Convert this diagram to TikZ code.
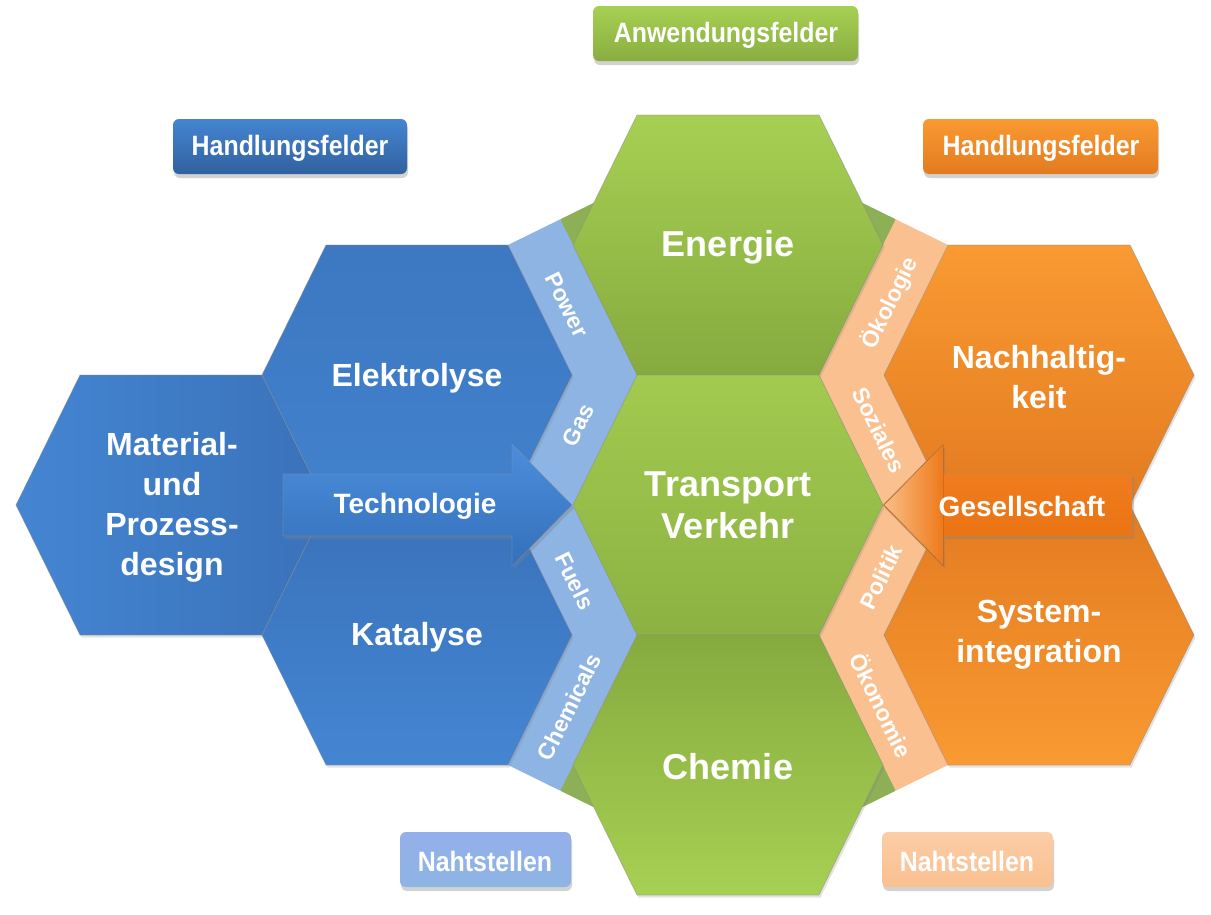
\documentclass[tikz,border=0pt]{standalone}
\usepackage{fontspec}
\setmainfont{Liberation Sans}
\newfontfamily\boxfont[FakeStretch=0.89]{Liberation Sans}
\usetikzlibrary{shadows}
\definecolor{blueA}{HTML}{4485D2}
\definecolor{blueB}{HTML}{3A72BA}
\definecolor{greenA}{HTML}{A6D052}
\definecolor{greenB}{HTML}{86AA3F}
\definecolor{orA}{HTML}{F99A32}
\definecolor{orB}{HTML}{E37B20}
\definecolor{ltblue}{HTML}{8EB4E3}
\definecolor{ltorange}{HTML}{FAC090}
\definecolor{dkgreen}{HTML}{8DAF55}
\definecolor{arrBlueA}{HTML}{4C8DDB}
\definecolor{arrBlueB}{HTML}{3470BA}
\definecolor{arrOrA}{HTML}{F28022}
\definecolor{arrOrB}{HTML}{E8700F}
\definecolor{tipOr}{HTML}{F9BE86}
\newcommand\myhex[2]{(#1-155,#2) -- (#1-91,#2-130) -- (#1+91,#2-130) -- (#1+155,#2) -- (#1+91,#2+130) -- (#1-91,#2+130) -- cycle}
\tikzset{
  wtxt/.style={text=white, inner sep=0pt},
  hexbase/.style={draw=black!45, draw opacity=.5, line width=0.7pt,
    drop shadow={opacity=.22, shadow xshift=1.5pt, shadow yshift=-2.5pt}},
  hextxt/.style={wtxt, font=\fontsize{32}{40}\selectfont\bfseries, align=center},
  bigtxt/.style={wtxt, font=\fontsize{36}{42}\selectfont\bfseries, align=center},
  striptxt/.style={wtxt, font=\fontsize{23}{26}\selectfont\bfseries},
  arrtxt/.style={wtxt, font=\fontsize{28}{32}\selectfont\bfseries},
  boxtxt/.style={wtxt, font=\boxfont\fontsize{28}{32}\selectfont\bfseries},
  labelbox/.style={rounded corners=6pt, minimum height=55pt, inner sep=0pt,
    drop shadow={opacity=.35, shadow xshift=1pt, shadow yshift=-4pt}},
  blockarrow/.style={draw=black!40, draw opacity=.4, line width=0.6pt,
    drop shadow={opacity=.35, shadow xshift=2pt, shadow yshift=-3pt}}
}
\begin{document}
\begin{tikzpicture}[x=1pt,y=-1pt]
\useasboundingbox (0,0) rectangle (1211,914);
\fill[white] (0,0) rectangle (1211,914);

% dark green background behind the seams
\fill[dkgreen] (560.3,219.3) -- (593.8,202.8) -- (862.2,202.8) -- (895.7,219.3)
  -- (895.7,790.7) -- (862.2,807.2) -- (593.8,807.2) -- (560.3,790.7) -- cycle;

% seam strips
\fill[ltblue] (508,245) -- (560.3,219.3) -- (573,245) -- (637,375) -- (573,505)
  -- (637,635) -- (573,765) -- (560.3,790.7) -- (508,765) -- (572,635)
  -- (508,505) -- (572,375) -- cycle;
\fill[ltorange] (948,245) -- (895.7,219.3) -- (883,245) -- (819,375) -- (883,505)
  -- (819,635) -- (883,765) -- (895.7,790.7) -- (948,765) -- (884,635)
  -- (948,505) -- (884,375) -- cycle;

% green hexagons
\path[hexbase, top color=greenA, bottom color=greenB] \myhex{728}{245};
\path[hexbase, top color=greenA!85!greenB, bottom color=greenB!80!greenA] \myhex{728}{505};
\path[hexbase, top color=greenB, bottom color=greenA] \myhex{728}{765};

% blue hexagons
\path[hexbase, left color=blueA, right color=blueB] \myhex{171}{505};
\path[hexbase, top color=blueB!70!blueA, bottom color=blueA!80!blueB] \myhex{417}{375};
\path[hexbase, top color=blueB, bottom color=blueA] \myhex{417}{635};

% orange hexagons
\path[hexbase, top color=orA, bottom color=orB] \myhex{1039}{375};
\path[hexbase, top color=orB, bottom color=orA] \myhex{1039}{635};

% block arrows
\path[blockarrow, top color=arrBlueA, bottom color=arrBlueB]
  (283,474) -- (512,474) -- (512,444) -- (572,505) -- (512,566) -- (512,536) -- (283,536) -- cycle;
\path[blockarrow, top color=arrOrA, bottom color=arrOrB]
  (1132,474) -- (943,474) -- (943,444) -- (883,505) -- (943,566) -- (943,536) -- (1132,536) -- cycle;
\fill[left color=tipOr, middle color=arrOrA!70!tipOr, right color=arrOrA!60!arrOrB] (884.5,505) -- (943,444.5) -- (943,565.5) -- cycle;

% label boxes
\node[labelbox, top color=greenA, bottom color=greenB!90!greenA, minimum width=265pt] (anw) at (725.5,33.5) {};
\node[labelbox, top color=blueA, bottom color=blueB!85!black, minimum width=234pt] (hfl) at (290,146.5) {};
\node[labelbox, top color=orA, bottom color=orB, minimum width=235pt] (hfr) at (1040.5,146.5) {};
\node[labelbox, top color=ltblue!80!white!90!blue, bottom color=ltblue, minimum width=171pt] (nsl) at (485.5,859.5) {};
\node[labelbox, top color=ltorange!80!white, bottom color=ltorange, minimum width=171pt] (nsr) at (967.5,859.5) {};

% box texts
\node[boxtxt] (tanw) at (726,35) {Anwendungsfelder};
\node[boxtxt] (thfl) at (290,148) {Handlungsfelder};
\node[boxtxt] (thfr) at (1041,148) {Handlungsfelder};
\node[boxtxt] (tnsl) at (485,861) {Nahtstellen};
\node[boxtxt] (tnsr) at (967,861) {Nahtstellen};

% hexagon texts
\node[bigtxt] (tene) at (728,247) {Energie};
\node[bigtxt] (ttra) at (728,505) {Transport\\Verkehr};
\node[bigtxt] (tche) at (728,767) {Chemie};
\node[hextxt] (tmat) at (172,507) {Material-\\und\\Prozess-\\design};
\node[hextxt] (tele) at (417,378) {Elektrolyse};
\node[hextxt] (tkat) at (417,637) {Katalyse};
\node[hextxt] (tnac) at (1039,377) {Nachhaltig-\\keit};
\node[hextxt] (tsys) at (1039,635) {System-\\integration};

% arrow texts
\node[arrtxt] (ttec) at (415,506) {Technologie};
\node[arrtxt] (tges) at (1022,506) {Gesellschaft};

% strip texts
\node[striptxt, rotate=-63.8] (tpow) at (567,305) {Power};
\node[striptxt, rotate=63.8] (tgas) at (578,425) {Gas};
\node[striptxt, rotate=-63.8] (tfue) at (575,581) {Fuels};
\node[striptxt, rotate=63.8] (tchm) at (569,707) {Chemicals};
\node[striptxt, rotate=63.8] (toek) at (890,303) {Ökologie};
\node[striptxt, rotate=-63.8] (tsoz) at (879,430) {Soziales};
\node[striptxt, rotate=63.8] (tpol) at (881,577) {Politik};
\node[striptxt, rotate=-63.8] (toko) at (882,705) {Ökonomie};
\end{tikzpicture}
\end{document}
